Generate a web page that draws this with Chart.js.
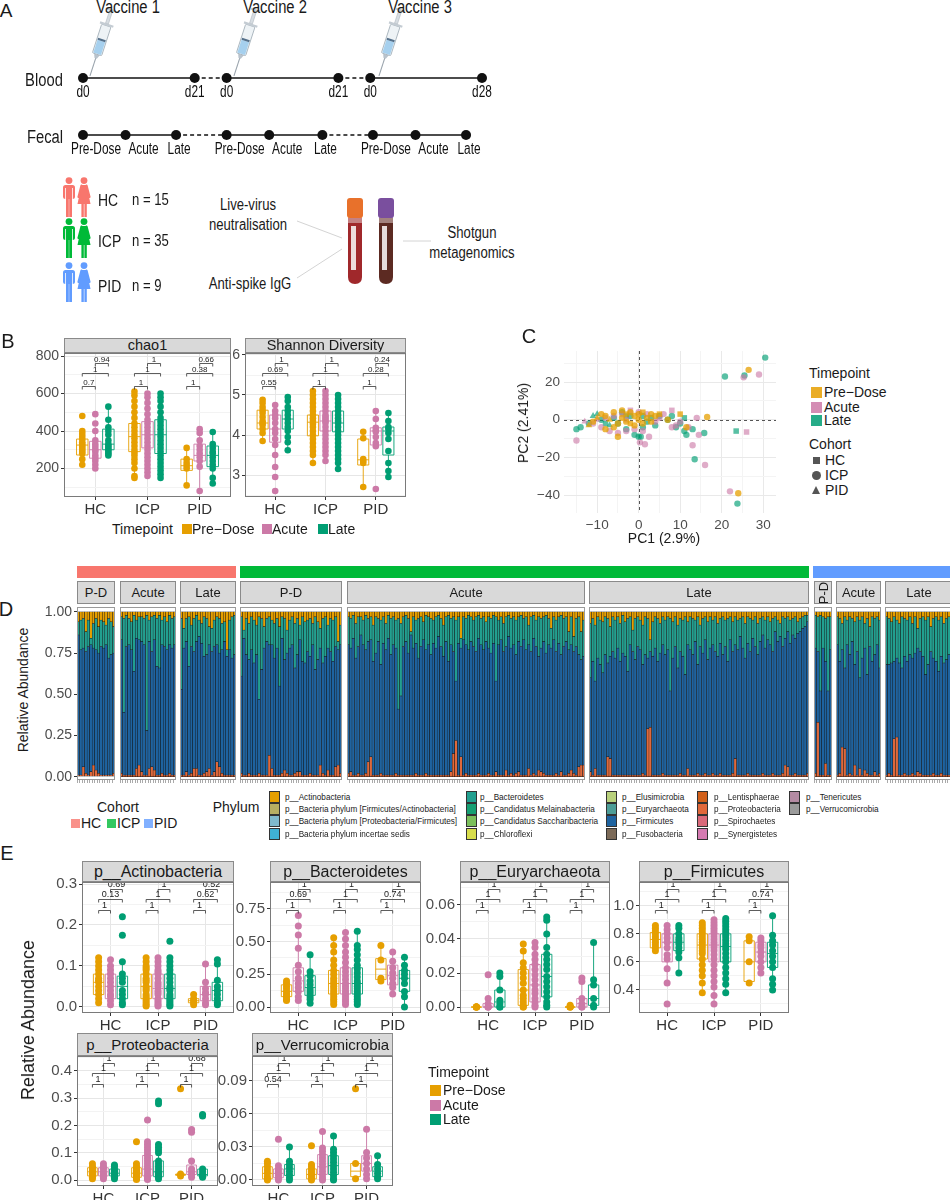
<!DOCTYPE html>
<html>
<head>
<meta charset="utf-8">
<title>Vaccine cohorts and gut microbiome</title>
<script src="https://cdn.jsdelivr.net/npm/chart.js@4.4.1/dist/chart.umd.min.js"></script>
<style>
  html, body { margin: 0; padding: 0; background: #fff; }
  body { position: relative; width: 950px; height: 1200px; overflow: hidden; font-family: 'Liberation Sans', Arial, sans-serif; color: #1a1a1a; }
  .box { position: absolute; z-index: 1; }
  .strip { position: absolute; z-index: 3; background: #d9d9d9; border: 1px solid #8a8a8a; box-sizing: border-box; text-align: center; color: #1a1a1a; overflow: hidden; white-space: nowrap; }
  .t { position: absolute; z-index: 4; line-height: 1; white-space: nowrap; }
  .key { position: absolute; z-index: 4; box-sizing: border-box; }
  #art { position: absolute; left: 0; top: 0; z-index: 0; }
</style>
</head>
<body>
<svg id="art" width="650" height="310"></svg>
<script>
// ---------------- data ----------------
const cohorts = ['HC', 'ICP', 'PID'];
const cohortN = [15, 35, 9];
const timepoints = ['Pre\u2212Dose', 'Acute', 'Late'];
const tpColors = ['#E69F00', '#CC79A7', '#009E73'];
const cohortColors = ['#F8766D', '#00BA38', '#619CFF'];

// panel A timeline, schematic units
const bloodPos = [0, 21, 27, 48, 54, 75];
const bloodLabels = ['d0', 'd21', 'd0', 'd21', 'd0', 'd28'];
const bloodDash = [false, true, false, true, false];
const fecalPos = [0, 8, 17.5, 27, 35, 45, 54.5, 62.5, 72];
const fecalLabels = ['Pre-Dose', 'Acute', 'Late', 'Pre-Dose', 'Acute', 'Late', 'Pre-Dose', 'Acute', 'Late'];
const fecalDash = [false, false, true, false, false, true, false, false];

// panel B, values per [cohort][timepoint]; boxes are [low whisker, q1, median, q3, high whisker]
const chao1Vals = [
  [[480,400,385,370,355,340,330,320,310,300,290,280,250,220],
   [490,440,400,350,330,315,300,290,270,255,240,220,200],
   [530,460,420,400,380,350,330,320,310,300,290,280,270]],
  [[610,590,560,530,500,470,440,420,400,380,360,340,320,300,285,270,250,230,200,160,150],
   [600,580,550,520,490,460,440,420,400,380,360,340,320,300,280,260,240,220,200,180,160],
   [600,580,560,530,500,470,450,430,410,390,370,350,330,310,290,270,250,230,210,190,170,150]],
  [[310,250,230,215,200,110],
   [410,390,350,320,300,280,260,240,210,80],
   [395,330,310,290,280,260,240,220,200,150,120]]
];
const chao1Box = [
  [[220,272,325,357,400],[200,255,300,345,420],[270,300,330,410,530]],
  [[150,290,370,440,610],[160,310,380,450,600],[150,280,380,460,600]],
  [[110,190,215,250,310],[80,240,270,330,410],[120,210,270,320,395]]
];
const chao1P = [['0.7','1','0.94'],['1','1','1'],['1','0.38','0.66']];

const shannonVals = [
  [[4.88,4.8,4.7,4.62,4.55,4.45,4.35,4.3,4.25,4.15,4.05,3.85],
   [4.75,4.6,4.5,4.42,4.3,4.15,4.05,3.9,3.75,3.5,3.2,2.95,2.6],
   [4.95,4.85,4.7,4.6,4.5,4.4,4.3,4.2,4.1,3.95,3.82,3.62]],
  [[5.1,5.0,4.9,4.8,4.7,4.6,4.5,4.42,4.35,4.28,4.2,4.1,4.0,3.9,3.8,3.7,3.6,3.5,3.3],
   [5.1,5.0,4.9,4.8,4.7,4.6,4.5,4.45,4.4,4.35,4.3,4.2,4.1,4.0,3.9,3.8,3.7,3.6,3.5,3.35],
   [5.0,4.9,4.8,4.7,4.6,4.5,4.42,4.35,4.3,4.2,4.1,4.0,3.9,3.8,3.7,3.6,3.5,3.4,3.3,3.15]],
  [[4.08,3.92,3.4,3.35,3.3,2.7],
   [4.6,4.4,4.18,4.12,4.08,3.95,3.8,3.72,2.65],
   [4.55,4.35,4.2,4.15,4.05,3.9,3.6,3.3,3.1,2.95]]
];
const shannonBox = [
  [[3.85,4.15,4.3,4.62,4.88],[3.2,3.82,4.15,4.5,4.75],[3.62,4.15,4.4,4.62,4.95]],
  [[3.3,3.98,4.32,4.5,5.1],[3.35,4.1,4.35,4.6,5.1],[3.15,4.08,4.3,4.6,5.0]],
  [[2.7,3.25,3.38,3.9,4.08],[3.72,3.75,4.1,4.18,4.6],[2.95,3.5,4.1,4.2,4.55]]
];
const shannonP = [['0.55','0.69','1'],['1','1','1'],['1','0.28','0.24']];

// panel C, PCA points [PC1, PC2, cohort index]
const pcaPre = [[-5,-9,1],[16.5,1.5,1],[10,3,0],[26.5,26.5,1],[24,-39,1],[-8,2,1],[-6,4,1],[-4,5,1],[-3,3,0],[-2,4,1],
  [-1,2,1],[0,3,1],[1,4,0],[2,1,1],[3,3,1],[-7,0,2],[-9,3,1],[-10,1,2],[-5,-2,1],[-3,-1,1],[-1,-3,1],[1,-2,1],
  [-6,-4,1],[4,2,1],[-11,-1,1],[5,3,0],[-4,1,1],[0,0,1],[-2,-2,0],[11.5,-4,1],[7,0,1],[-8,-5,1],[-12,-3,2],[3,-1,1]];
const pcaAcute = [[-15,-11,1],[-13,-1,2],[0.3,-12,1],[1.5,-13,1],[2.5,-9,1],[14.5,-8,1],[13,-13.5,1],[16,-24,1],
  [22,-38,1],[25.3,22.5,1],[29,24,1],[26,-6.5,0],[14,1,1],[8,5,0],[6,3,1],[8,-4,1],[-9,-4,1],[-7,-6,1],[-5,-7,1],
  [-3,-6,1],[-1,-5,1],[1,-6,1],[-4,3,1],[-6,2,1],[-2,5,0],[0,4,1],[2,3,1],[-8,1,1],[-11,-2,1],[4,-1,1],[10,-1,1],
  [12,-4,1],[-10,0,2],[5,1,1],[-3,0,0],[9,-3,1]];
const pcaLate = [[-15,-5,1],[-14,-4,1],[-12,-2,1],[-10,3,2],[-9,0,1],[-7,-3,2],[-6,1,1],[-5,-2,1],[-4,4,1],[-3,-5,1],
  [-2,2,1],[-1,-8,1],[0,-9,1],[0.5,-9,1],[1,-4,1],[2,-1,1],[3,1,1],[5,2,1],[7,0,1],[8,2,1],[9,-4,1],[10,-2,1],
  [11,-6,1],[11.5,-8,1],[11,1,0],[13,-5,1],[15.8,-7,1],[13.5,-21,1],[20.8,23,1],[25.5,23.5,1],[30.5,33,1],
  [23.5,-6,0],[23.8,-44.5,1],[-8,-2,0],[-11,2,2],[-3,2,0],[1,2,1],[4,-3,1]];

// panel D, one row per sample: [Proteobacteria top, Firmicutes top, Bacteroidetes top] in %
const dHcPd = [[1,86,94],[1,77,95],[6,78,96],[2,76,88],[1,79,95],[3,80,84],[7,78,93],[4,77,96],[2,75,91],[1,79,95],
  [1,78,94],[1,80,92],[1,72,96],[1,74,94],[2,75,91]];
const dHcAc = [[2,83,97],[1,39,96],[1,79,98],[1,80,96],[1,77,94],[1,64,98],[5,84,95],[7,83,97],[3,82,97],[1,80,96],
  [1,28,98],[5,82,95],[6,76,97],[4,83,98],[1,67,96],[1,66,98],[2,80,95],[1,79,97],[1,77,94],[2,80,98],[1,78,96],[1,80,97]];
const dHcLate = [[1,53,96],[1,78,90],[3,82,96],[1,67,97],[2,79,92],[5,76,96],[5,82,98],[1,85,95],[1,81,93],[2,73,97],
  [3,74,96],[5,80,91],[1,76,90],[3,79,95],[9,80,97],[6,75,96],[2,77,93],[1,82,94],[1,73,77],[1,77,95],[1,72,97],[1,74,98]];
const dIcpPd = [[2,61,97],[1,84,89],[1,74,96],[2,71,93],[1,77,97],[1,69,95],[1,74,92],[2,47,97],[1,65,96],[1,78,91],
  [1,82,96],[13,80,97],[5,80,95],[1,72,93],[1,78,96],[1,55,91],[2,84,97],[4,71,96],[2,75,89],[1,78,95],
  [1,80,97],[2,66,93],[3,74,96],[3,83,92],[1,70,97],[1,69,94],[1,76,95],[2,73,96],[1,80,93],[1,65,97],
  [1,71,94],[7,78,90],[2,69,96],[1,73,97],[4,78,92],[1,76,96],[1,70,95],[6,79,97],[7,77,82],[2,80,92]];
const dIcpAc = [[2,80,97],[3,78,96],[1,84,98],[1,72,93],[2,79,97],[1,86,97],[1,80,95],[2,77,98],[9,82,96],[12,83,97],
  [1,70,92],[1,75,97],[1,82,96],[2,68,95],[1,81,97],[1,77,93],[1,84,98],[1,74,96],[1,80,97],[2,78,95],
  [1,41,96],[1,49,93],[1,79,97],[1,82,98],[1,75,96],[1,86,88],[1,78,97],[2,81,95],[1,72,96],[1,79,97],
  [1,83,94],[2,77,98],[1,80,97],[1,74,96],[1,81,95],[1,78,97],[1,85,98],[1,79,96],[1,73,92],[1,82,97],
  [1,70,98],[3,80,96],[14,76,97],[22,58,95],[1,81,97],[12,78,84],[1,83,97],[2,80,96],[1,77,98],[1,82,97],
  [1,79,95],[1,76,97],[2,84,98],[1,80,96],[1,77,97],[1,82,94],[2,78,97],[1,75,96],[1,81,98],[3,58,97],
  [1,80,95],[1,83,97],[1,76,93],[4,79,97],[1,85,98],[2,78,96],[1,80,97],[2,74,95],[3,82,97],[1,79,98],
  [1,83,96],[1,77,97],[5,80,92],[1,76,97],[2,84,98],[1,79,95],[4,73,97],[3,78,96],[2,82,97],[1,75,98],
  [1,80,96],[1,78,90],[1,83,97],[2,76,95],[1,81,97],[3,74,98],[1,79,96],[1,82,97],[2,77,88],[4,80,97],
  [2,76,85],[1,79,96],[6,74,97],[7,71,88],[7,73,95]];
const dIcpLate = [[3,60,93],[1,70,96],[5,58,92],[1,72,97],[1,68,95],[1,63,94],[1,74,97],[12,69,96],[11,73,91],[1,76,97],
  [1,72,95],[1,78,97],[1,70,93],[1,75,98],[1,73,94],[1,64,96],[1,80,97],[1,76,89],[1,71,96],[1,79,97],
  [1,77,95],[2,68,92],[1,74,97],[29,72,96],[30,76,83],[1,73,94],[1,78,97],[1,70,96],[1,75,93],[2,80,97],
  [1,74,95],[1,77,97],[1,52,96],[1,72,94],[1,79,97],[1,66,92],[2,76,96],[1,73,95],[1,62,97],[5,80,94],
  [1,77,97],[1,74,96],[1,82,95],[2,68,97],[1,79,92],[1,75,96],[2,83,97],[1,71,94],[1,78,97],[2,80,95],
  [1,76,97],[1,73,93],[2,81,96],[1,74,97],[1,79,95],[1,70,96],[1,83,97],[2,76,94],[11,80,97],[1,77,95],
  [1,85,96],[1,78,97],[1,72,93],[2,81,97],[1,76,96],[1,84,95],[1,79,97],[1,74,93],[1,82,96],[2,86,97],
  [1,78,95],[1,83,97],[1,80,94],[2,76,96],[1,88,97],[1,82,95],[1,85,93],[2,79,97],[7,84,96],[6,88,97],
  [1,81,95],[1,86,96],[2,84,97],[1,87,94],[1,88,96],[1,90,97],[1,91,98],[2,94,98]];
const dPidPd = [[2,78,98],[33,76,97],[1,52,98],[1,78,97],[8,70,96],[1,52,97],[1,77,97]];
const dPidAc = [[1,80,97],[2,70,96],[18,77,93],[17,66,97],[1,80,95],[2,74,97],[1,82,96],[7,68,94],[1,76,97],
  [5,60,95],[1,72,97],[4,78,93],[2,62,96],[1,79,91],[1,70,97],[3,74,96],[1,80,97],[2,66,95]];
const dPidLate = [[1,68,97],[2,68,96],[1,69,94],[23,70,97],[24,72,95],[1,69,93],[1,66,97],[2,73,96],[1,70,95],
  [1,74,97],[2,72,93],[1,75,97],[3,78,90],[2,76,96],[1,73,97],[1,62,95],[1,68,97],[1,76,91],[2,72,96],
  [1,70,97],[1,64,95],[2,73,97],[1,69,93],[1,71,96],[1,74,97],[2,70,95]];

const phyla = ['Actinobacteria', 'Bacteria phylum [Firmicutes/Actinobacteria]', 'Bacteria phylum [Proteobacteria/Firmicutes]',
  'Bacteria phylum incertae sedis', 'Bacteroidetes', 'Candidatus Melainabacteria', 'Candidatus Saccharibacteria', 'Chloroflexi',
  'Elusimicrobia', 'Euryarchaeota', 'Firmicutes', 'Fusobacteria', 'Lentisphaerae', 'Proteobacteria', 'Spirochaetes',
  'Synergistetes', 'Tenericutes', 'Verrucomicrobia'];
const phylumColors = ['#E69F00', '#B8AE62', '#80B9CC', '#3FB1D6', '#22A090', '#169F73', '#7CC05C', '#D8DD4C',
  '#B9D17C', '#4D9D97', '#1E63A0', '#7C6A58', '#D2601A', '#E0683A', '#D9697A', '#D57AB1', '#B48BA3', '#9B9B9B'];

// panel E
const actVals = [
  [[0.12,0.11,0.1,0.09,0.08,0.07,0.065,0.06,0.05,0.04,0.03,0.02,0.01],
   [0.115,0.1,0.09,0.08,0.07,0.06,0.05,0.04,0.03,0.025,0.015,0.005],
   [0.22,0.175,0.11,0.08,0.07,0.06,0.04,0.03,0.02,0.01,0.005]],
  [[0.12,0.11,0.1,0.095,0.09,0.08,0.07,0.065,0.06,0.05,0.045,0.04,0.03,0.025,0.02,0.015,0.01,0.005,0.002],
   [0.12,0.11,0.1,0.09,0.085,0.08,0.07,0.06,0.055,0.05,0.04,0.035,0.03,0.02,0.015,0.01,0.005,0.002],
   [0.16,0.12,0.11,0.1,0.09,0.08,0.07,0.06,0.05,0.045,0.04,0.03,0.025,0.02,0.015,0.01,0.005,0.002]],
  [[0.03,0.02,0.015,0.01,0.005],
   [0.105,0.06,0.045,0.035,0.03,0.02,0.01,0.005],
   [0.115,0.105,0.065,0.05,0.04,0.03,0.02,0.01,0.005]]
];
const actBox = [
  [[0.01,0.03,0.06,0.08,0.12],[0.005,0.02,0.05,0.08,0.115],[0.005,0.02,0.05,0.075,0.11]],
  [[0.002,0.02,0.05,0.08,0.12],[0.002,0.02,0.045,0.08,0.12],[0.002,0.02,0.045,0.08,0.12]],
  [[0.005,0.01,0.015,0.02,0.03],[0.005,0.015,0.03,0.05,0.105],[0.005,0.015,0.04,0.06,0.115]]
];
const actP = [['1','0.13','0.69'],['1','1','1'],['1','0.62','0.52']];

const bacVals = [
  [[0.2,0.18,0.16,0.14,0.12,0.1,0.09,0.08,0.06,0.05],
   [0.7,0.62,0.55,0.45,0.32,0.27,0.22,0.18,0.15,0.12,0.08,0.05],
   [0.4,0.27,0.24,0.2,0.17,0.14,0.12,0.1,0.08,0.06,0.03]],
  [[0.53,0.47,0.42,0.36,0.32,0.28,0.25,0.22,0.2,0.18,0.16,0.14,0.12,0.1,0.08,0.06,0.04,0.02],
   [0.57,0.52,0.47,0.42,0.38,0.34,0.3,0.27,0.24,0.21,0.18,0.16,0.14,0.12,0.1,0.08,0.06,0.04,0.02],
   [0.58,0.47,0.44,0.4,0.36,0.32,0.29,0.26,0.23,0.2,0.18,0.16,0.14,0.12,0.1,0.08,0.06,0.04,0.02]],
  [[0.47,0.36,0.22,0.2],
   [0.42,0.35,0.3,0.26,0.22,0.18,0.15,0.1],
   [0.38,0.32,0.28,0.25,0.22,0.18,0.12,0.08,0.0]]
];
const bacBox = [
  [[0.05,0.08,0.12,0.17,0.2],[0.05,0.12,0.2,0.3,0.55],[0.03,0.09,0.15,0.24,0.4]],
  [[0.02,0.1,0.18,0.28,0.53],[0.02,0.1,0.18,0.3,0.57],[0.02,0.1,0.18,0.3,0.58]],
  [[0.2,0.21,0.29,0.37,0.47],[0.1,0.17,0.24,0.32,0.42],[0.0,0.12,0.22,0.28,0.38]]
];
const bacP = [['1','0.69','1'],['1','1','1'],['1','0.74','1']];

const euryVals = [
  [[0,0,0,0,0],[0.019,0.005,0.002,0,0,0],[0.02,0.018,0.01,0.004,0.002,0,0]],
  [[0.037,0.033,0.026,0.023,0.02,0.017,0.014,0.01,0.007,0.005,0.003,0.001,0,0],
   [0.038,0.035,0.031,0.028,0.025,0.022,0.019,0.016,0.013,0.01,0.008,0.005,0.003,0.001,0],
   [0.053,0.051,0.043,0.035,0.031,0.028,0.025,0.022,0.018,0.015,0.012,0.009,0.006,0.003,0.001,0]],
  [[0.001,0,0,0],[0.017,0.015,0.005,0.002,0,0],[0.038,0.016,0.013,0.005,0.001,0]]
];
const euryBox = [
  [[0,0,0,0,0],[0,0,0,0.002,0.005],[0,0,0.003,0.01,0.02]],
  [[0,0.001,0.01,0.022,0.037],[0,0.003,0.013,0.025,0.038],[0,0.006,0.018,0.031,0.053]],
  [[0,0,0,0,0.001],[0,0,0.002,0.005,0.017],[0,0.001,0.005,0.013,0.038]]
];
const euryP = [['1','1','1'],['1','1','1'],['1','1','1']];

const firmVals = [
  [[0.86,0.84,0.82,0.8,0.78,0.76,0.74,0.72,0.7,0.68],
   [0.86,0.83,0.8,0.77,0.74,0.7,0.65,0.62,0.55,0.45,0.3],
   [0.86,0.84,0.8,0.77,0.75,0.73,0.7,0.67,0.63,0.52]],
  [[0.88,0.86,0.84,0.82,0.8,0.78,0.76,0.74,0.72,0.7,0.68,0.66,0.62,0.58,0.54,0.5,0.45,0.38],
   [0.9,0.88,0.86,0.84,0.82,0.8,0.78,0.76,0.74,0.72,0.7,0.68,0.65,0.62,0.58,0.54,0.5,0.46,0.42,0.36,0.3],
   [0.91,0.89,0.87,0.85,0.83,0.81,0.79,0.77,0.75,0.73,0.71,0.69,0.66,0.63,0.6,0.56,0.52,0.48,0.44,0.38]],
  [[0.78,0.75,0.6,0.45],
   [0.77,0.75,0.72,0.7,0.67,0.64,0.6,0.56,0.52],
   [0.93,0.79,0.75,0.72,0.68,0.64,0.6,0.56,0.48,0.44,0.4]]
];
const firmBox = [
  [[0.67,0.7,0.76,0.81,0.86],[0.45,0.6,0.74,0.8,0.86],[0.52,0.68,0.74,0.8,0.86]],
  [[0.38,0.62,0.72,0.8,0.88],[0.3,0.6,0.72,0.8,0.9],[0.38,0.6,0.71,0.8,0.91]],
  [[0.44,0.46,0.6,0.75,0.78],[0.52,0.6,0.67,0.74,0.77],[0.4,0.56,0.66,0.74,0.93]]
];
const firmP = [['1','1','1'],['1','1','1'],['1','0.74','1']];

const protVals = [
  [[0.06,0.05,0.045,0.04,0.035,0.03,0.025,0.02,0.015,0.01,0.005],
   [0.06,0.05,0.045,0.04,0.03,0.025,0.02,0.015,0.01,0.005],
   [0.055,0.05,0.04,0.035,0.03,0.025,0.02,0.015,0.01,0.005]],
  [[0.14,0.06,0.05,0.045,0.04,0.035,0.03,0.025,0.02,0.015,0.01,0.008,0.005,0.002],
   [0.22,0.14,0.13,0.12,0.11,0.1,0.09,0.08,0.07,0.06,0.05,0.04,0.03,0.02,0.01,0.005,0.002],
   [0.29,0.28,0.13,0.12,0.11,0.1,0.07,0.06,0.05,0.04,0.03,0.025,0.02,0.015,0.01,0.005]],
  [[0.335,0.022,0.015],
   [0.185,0.175,0.07,0.04,0.03,0.02,0.01],
   [0.24,0.235,0.04,0.03,0.02,0.015,0.01]]
];
const protBox = [
  [[0.005,0.015,0.03,0.045,0.06],[0.005,0.015,0.03,0.045,0.06],[0.005,0.015,0.025,0.04,0.055]],
  [[0.002,0.01,0.025,0.045,0.06],[0.002,0.015,0.04,0.09,0.14],[0.005,0.012,0.03,0.07,0.13]],
  [[0.015,0.017,0.02,0.022,0.022],[0.01,0.02,0.03,0.055,0.07],[0.01,0.015,0.02,0.04,0.04]]
];
const protP = [['1','1','1'],['1','1','1'],['1','1','0.68']];

const verrVals = [
  [[0.017,0.015,0.012,0.009,0.006,0.003,0.001,0],
   [0.037,0.013,0.01,0.008,0.006,0.004,0.002,0],
   [0.03,0.017,0.014,0.011,0.008,0.005,0.002,0]],
  [[0.031,0.014,0.012,0.01,0.008,0.006,0.004,0.002,0.001,0],
   [0.044,0.029,0.026,0.023,0.02,0.017,0.014,0.011,0.008,0.005,0.002,0],
   [0.04,0.028,0.025,0.022,0.019,0.016,0.013,0.01,0.007,0.004,0.001,0]],
  [[0.083,0.015,0.001],
   [0.046,0.025,0.02,0.015,0.01,0.005,0.001],
   [0.022,0.014,0.01,0.006,0.003,0.001]]
];
const verrBox = [
  [[0,0.001,0.006,0.012,0.017],[0,0.002,0.006,0.01,0.013],[0,0.004,0.01,0.014,0.03]],
  [[0,0.001,0.005,0.01,0.014],[0,0.005,0.012,0.023,0.044],[0,0.005,0.013,0.022,0.04]],
  [[0.001,0.003,0.008,0.015,0.015],[0.001,0.008,0.015,0.022,0.046],[0.001,0.003,0.008,0.012,0.022]]
];
const verrP = [['0.54','1','1'],['1','1','1'],['1','1','1']];

// ---------------- setup ----------------
Chart.defaults.font.family = "'Liberation Sans', Arial, sans-serif";
Chart.defaults.color = '#4d4d4d';
Chart.defaults.animation = false;
Chart.defaults.responsive = true;
Chart.defaults.maintainAspectRatio = false;
Chart.defaults.events = [];
Chart.defaults.plugins.legend.display = false;
Chart.defaults.plugins.tooltip.enabled = false;

const dodge = [-0.25, 0, 0.25];
const sigPairs = [[0, 1], [0, 2], [1, 2]];

// panel border, like ggplot theme_bw
Chart.register({
  id: 'frame',
  afterDraw(chart, args, o) {
    if (!o.color) return;
    const a = chart.chartArea, c = chart.ctx;
    c.save();
    c.strokeStyle = o.color; c.lineWidth = 1;
    c.strokeRect(a.left + 0.5, a.top + 0.5, a.right - a.left - 1, a.bottom - a.top - 1);
    c.restore();
  }
});

// box and whiskers under the dots
Chart.register({
  id: 'boxes',
  beforeDatasetsDraw(chart, args, o) {
    if (!o.stats) return;
    const { ctx, chartArea: a, scales: { x, y } } = chart;
    const hw = x.getPixelForValue(1.11) - x.getPixelForValue(1);
    ctx.save();
    ctx.beginPath(); ctx.rect(a.left, a.top, a.right - a.left, a.bottom - a.top); ctx.clip();
    ctx.lineWidth = 0.9;
    o.stats.forEach((coh, ci) => coh.forEach((s, t) => {
      const [lo, q1, md, q3, hi] = s.map(v => y.getPixelForValue(v));
      const xc = x.getPixelForValue(ci + 1 + dodge[t]);
      ctx.strokeStyle = tpColors[t];
      ctx.beginPath();
      ctx.moveTo(xc, hi); ctx.lineTo(xc, q3);
      ctx.moveTo(xc, q1); ctx.lineTo(xc, lo);
      ctx.rect(xc - hw, q3, 2 * hw, q1 - q3);
      ctx.moveTo(xc - hw, md); ctx.lineTo(xc + hw, md);
      ctx.stroke();
    }));
    ctx.restore();
  }
});

// significance brackets with p labels
Chart.register({
  id: 'sig',
  afterDatasetsDraw(chart, args, o) {
    if (!o.labels) return;
    const { ctx, chartArea: a, scales: { x } } = chart;
    const H = a.bottom - a.top;
    ctx.save();
    ctx.strokeStyle = '#333'; ctx.fillStyle = '#222'; ctx.lineWidth = 0.8;
    ctx.font = (o.size || 8.5) + "px 'Liberation Sans', Arial, sans-serif";
    ctx.textAlign = 'center'; ctx.textBaseline = 'bottom';
    o.labels.forEach((trio, ci) => trio.forEach((lab, k) => {
      const [g1, g2] = sigPairs[k];
      const x1 = x.getPixelForValue(ci + 1 + dodge[g1]), x2 = x.getPixelForValue(ci + 1 + dodge[g2]);
      const yy = Math.round(a.top + o.levels[k] * H) + 0.5;
      ctx.beginPath();
      ctx.moveTo(x1, yy + 3); ctx.lineTo(x1, yy); ctx.lineTo(x2, yy); ctx.lineTo(x2, yy + 3);
      ctx.stroke();
      ctx.fillText(lab, (x1 + x2) / 2, yy);
    }));
    ctx.restore();
  }
});

// dashed zero lines of the PCA
Chart.register({
  id: 'zero',
  beforeDatasetsDraw(chart, args, o) {
    if (!o.on) return;
    const { ctx, chartArea: a, scales: { x, y } } = chart;
    const x0 = Math.round(x.getPixelForValue(0)) + 0.5, y0 = Math.round(y.getPixelForValue(0)) + 0.5;
    ctx.save();
    ctx.strokeStyle = '#555'; ctx.lineWidth = 1; ctx.setLineDash([3, 3]);
    ctx.beginPath();
    ctx.moveTo(x0, a.top); ctx.lineTo(x0, a.bottom);
    ctx.moveTo(a.left, y0); ctx.lineTo(a.right, y0);
    ctx.stroke();
    ctx.restore();
  }
});

// labels under the timeline dots; shift is a per-label horizontal nudge
Chart.register({
  id: 'tlLabels',
  afterDatasetsDraw(chart, args, o) {
    if (!o.sets) return;
    const { ctx } = chart;
    ctx.save();
    ctx.fillStyle = '#111'; ctx.textAlign = 'center'; ctx.textBaseline = 'middle';
    ctx.font = "16px 'Liberation Sans', Arial, sans-serif";
    o.sets.forEach((labels, di) => {
      chart.getDatasetMeta(di).data.forEach((pt, i) => {
        ctx.save();
        ctx.translate(pt.x + o.shift[di][i % o.shift[di].length], pt.y + o.dy);
        ctx.scale(0.74, 1);
        ctx.fillText(labels[i], 0, 0);
        ctx.restore();
      });
    });
    ctx.restore();
  }
});

function place(left, top, w, h) {
  const d = document.createElement('div');
  d.className = 'box';
  d.style.cssText = `left:${left}px;top:${top}px;width:${w}px;height:${h}px`;
  const c = document.createElement('canvas');
  d.appendChild(c);
  document.body.appendChild(d);
  return c;
}

function txt(s, x, y, size, o = {}) {
  const d = document.createElement('div');
  d.className = 't';
  d.textContent = s;
  let tf = `translate(${o.left ? '0' : '-50%'},-50%)`;
  if (o.sx) tf += ` scaleX(${o.sx})`;
  if (o.rot) tf += ` rotate(${o.rot}deg)`;
  d.style.left = x + 'px';
  d.style.top = y + 'px';
  d.style.fontSize = size + 'px';
  d.style.transform = tf;
  d.style.transformOrigin = o.left ? 'left center' : 'center center';
  if (o.color) d.style.color = o.color;
  document.body.appendChild(d);
  return d;
}

function key(x, y, w, h, css) {
  const d = document.createElement('div');
  d.className = 'key';
  d.style.cssText = `left:${x}px;top:${y - h / 2}px;width:${w}px;height:${h}px;${css}`;
  document.body.appendChild(d);
}

function strip(l, t, r, b, s, size, vertical) {
  const d = document.createElement('div');
  d.className = 'strip';
  d.style.cssText = `left:${l}px;top:${t}px;width:${r - l}px;height:${b - t}px;font-size:${size}px;line-height:${b - t - 2}px`;
  if (vertical) {
    const sp = document.createElement('div');
    sp.textContent = s;
    sp.style.cssText = `position:absolute;left:50%;top:50%;line-height:1;transform:translate(-50%,-50%) rotate(-90deg)`;
    d.appendChild(sp);
  } else {
    d.textContent = s;
  }
  document.body.appendChild(d);
}

function halfTicks(min, max, step) {
  const h = step / 2, out = [];
  for (let k = Math.ceil(min / h - 1e-9); k * h <= max + 1e-12; k++) out.push({ value: +(k * h).toFixed(10) });
  return out;
}
const isMajor = (v, step) => Math.abs(v / step - Math.round(v / step)) < 1e-6;

// ---------------- panel A ----------------
function syringe(cx, cy) {
  return `<g transform="translate(${cx},${cy}) rotate(18) scale(1.08)">
    <line x1="0" y1="15" x2="0" y2="33" stroke="#98a2ab" stroke-width="1"/>
    <path d="M-2.8 12 L2.8 12 L1.1 16 L-1.1 16 Z" fill="#b9c3cc"/>
    <rect x="-4.5" y="-16" width="9" height="28" rx="1" fill="#eef3f6" stroke="#a9b4bd" stroke-width="0.8"/>
    <rect x="-3.7" y="-1" width="7.4" height="12.5" fill="#a6d0ee"/>
    <rect x="-3.7" y="-3" width="7.4" height="2" fill="#55708a"/>
    <rect x="-6.5" y="-18" width="13" height="2" fill="#c4ccd3"/>
    <rect x="-1.4" y="-30" width="2.8" height="12" fill="#d7dde2" stroke="#b0b8c0" stroke-width="0.5"/>
    <rect x="-4.2" y="-32" width="8.4" height="2" fill="#c4ccd3"/>
  </g>`;
}
function person(x, y, col, female) {
  let s = `<circle cx="${x + 6}" cy="${y + 3.6}" r="3.4" fill="${col}"/>`;
  if (!female) {
    s += `<rect x="${x}" y="${y + 8}" width="12" height="14" rx="2.5" fill="${col}"/>
      <rect x="${x + 2.2}" y="${y + 11}" width="0.8" height="11" fill="#fff"/>
      <rect x="${x + 9}" y="${y + 11}" width="0.8" height="11" fill="#fff"/>
      <rect x="${x + 3}" y="${y + 21}" width="2.8" height="19" fill="${col}"/>
      <rect x="${x + 6.2}" y="${y + 21}" width="2.8" height="19" fill="${col}"/>`;
  } else {
    s += `<path d="M${x + 3.5} ${y + 8} L${x + 8.5} ${y + 8} L${x + 12.5} ${y + 27} L${x - 0.5} ${y + 27} Z" fill="${col}"/>
      <path d="M${x + 3.5} ${y + 8.5} L${x + 0.5} ${y + 20}" stroke="${col}" stroke-width="2.2" stroke-linecap="round"/>
      <path d="M${x + 8.5} ${y + 8.5} L${x + 11.5} ${y + 20}" stroke="${col}" stroke-width="2.2" stroke-linecap="round"/>
      <rect x="${x + 3.4}" y="${y + 26}" width="2.4" height="14" fill="${col}"/>
      <rect x="${x + 6.4}" y="${y + 26}" width="2.4" height="14" fill="${col}"/>`;
  }
  return s;
}
function tube(x, capCol, bodyCol) {
  return `<rect x="${x}" y="198" width="16" height="20" rx="3" fill="${capCol}"/>
    <rect x="${x + 1}" y="214" width="14" height="4" fill="${capCol}" opacity="0.7"/>
    <path d="M${x + 1} 218 L${x + 15} 218 L${x + 15} 277 Q${x + 15} 284 ${x + 8} 284 Q${x + 1} 284 ${x + 1} 277 Z" fill="${bodyCol}"/>
    <rect x="${x + 4}" y="226" width="5" height="44" fill="#f3ecec" opacity="0.92"/>
    <rect x="${x + 1}" y="218" width="14" height="5" fill="#e9d9d9" opacity="0.5"/>`;
}
let art = '';
[101, 245, 390].forEach(cx => { art += syringe(cx, 42); });
[177, 218, 262].forEach((y, i) => { art += person(63, y, cohortColors[i], false) + person(78, y, cohortColors[i], true); });
art += tube(347, '#E8712B', '#A0282B') + tube(378, '#7A4F9E', '#5C2A22');
art += `<line x1="297" y1="221" x2="342" y2="238" stroke="#d4d4d4" stroke-width="1"/>
  <line x1="297" y1="278" x2="342" y2="249" stroke="#d4d4d4" stroke-width="1"/>
  <line x1="403" y1="241" x2="431" y2="241" stroke="#d4d4d4" stroke-width="1"/>`;
document.getElementById('art').innerHTML = art;

txt('A', 6, 10, 19);
['Vaccine 1', 'Vaccine 2', 'Vaccine 3'].forEach((s, i) => txt(s, [128, 275, 420][i], 7, 18, { sx: 0.82 }));
txt('Blood', 44, 80, 18, { sx: 0.82 });
txt('Fecal', 45, 137, 18, { sx: 0.82 });
[200, 241, 286].forEach((y, i) => {
  txt(cohorts[i], 98, y, 17, { left: true, sx: 0.82 });
  txt('n = ' + cohortN[i], 132, y, 16, { left: true, sx: 0.82 });
});
txt('Live-virus', 248, 205, 16, { sx: 0.82 });
txt('neutralisation', 248, 225, 16, { sx: 0.82 });
txt('Anti-spike IgG', 250, 284, 16, { sx: 0.82 });
txt('Shotgun', 472, 233, 16, { sx: 0.82 });
txt('metagenomics', 472, 253, 16, { sx: 0.82 });

new Chart(place(60, 58, 445, 110), {
  type: 'line',
  data: {
    datasets: [
      { data: bloodPos.map(x => ({ x, y: 1 })), segment: { borderDash: s => bloodDash[s.p0DataIndex] ? [4, 3] : undefined } },
      { data: fecalPos.map(x => ({ x, y: 0 })), segment: { borderDash: s => fecalDash[s.p0DataIndex] ? [4, 3] : undefined } }
    ].map(d => Object.assign(d, { borderColor: '#111', borderWidth: 1.6, pointRadius: 5, pointBackgroundColor: '#111', pointBorderWidth: 0, clip: false, tension: 0 }))
  },
  options: {
    layout: { padding: { left: 23, right: 23, top: 20, bottom: 33 } },
    scales: { x: { type: 'linear', min: 0, max: 75, display: false }, y: { min: 0, max: 1, display: false } },
    plugins: { tlLabels: { sets: [bloodLabels, fecalLabels], shift: [[0], [13, 18, 3]], dy: 15 } }
  }
});

// ---------------- dot + box panels (B and E) ----------------
function dotPanel(p) {
  const m = 8, axW = 40, axH = 22;
  const c = place(p.l - axW, p.t - m, p.r - p.l + axW + m, p.b - p.t + axH + m);
  new Chart(c, {
    type: 'scatter',
    data: {
      datasets: tpColors.map((col, t) => ({
        data: p.vals.flatMap((coh, ci) => coh[t].map(v => ({ x: ci + 1 + dodge[t], y: v }))),
        backgroundColor: col, borderWidth: 0, pointRadius: p.radius || 3.4
      }))
    },
    options: {
      layout: { padding: { top: m, right: m } },
      scales: {
        x: {
          type: 'linear', min: 0.4, max: 3.6,
          afterBuildTicks: s => { s.ticks = cohorts.map((_, i) => ({ value: i + 1 })); },
          afterFit: s => { s.height = axH; s.paddingLeft = 0; s.paddingRight = 0; },
          ticks: { callback: v => cohorts[v - 1], font: { size: 15 }, color: '#333', padding: 1, autoSkip: false, maxRotation: 0 },
          grid: { color: '#e6e6e6', tickColor: '#333', tickLength: 3 },
          border: { display: false }
        },
        y: {
          min: p.min, max: p.max,
          afterBuildTicks: s => { s.ticks = halfTicks(p.min, p.max, p.step); },
          afterFit: s => { s.width = axW; s.paddingTop = 0; s.paddingBottom = 0; },
          ticks: { callback: v => isMajor(v, p.step) ? p.fmt(v) : '', font: { size: p.ySize || 14 }, color: '#4d4d4d', padding: 2, autoSkip: false },
          grid: {
            color: g => isMajor(g.tick.value, p.step) ? '#e6e6e6' : '#f3f3f3',
            tickColor: g => isMajor(g.tick.value, p.step) ? '#333' : 'rgba(0,0,0,0)',
            tickLength: 3
          },
          border: { display: false }
        }
      },
      plugins: {
        frame: { color: '#7a7a7a' },
        boxes: { stats: p.boxes },
        sig: { labels: p.sig, levels: p.levels || [0.215, 0.13, 0.05], size: p.sigSize || 9 }
      }
    }
  });
  strip(p.l, p.st, p.r, p.t, p.title, p.titleSize);
}

// panel B
txt('B', 8, 341, 20);
dotPanel({ l: 64, r: 231, t: 353, b: 497, st: 338, title: 'chao1', titleSize: 14.5,
  vals: chao1Vals, boxes: chao1Box, sig: chao1P, min: 48, max: 816, step: 200, fmt: v => String(v),
  levels: [0.23, 0.14, 0.07], sigSize: 8, radius: 3.3 });
dotPanel({ l: 245, r: 406, t: 353, b: 497, st: 338, title: 'Shannon Diversity', titleSize: 14.5,
  vals: shannonVals, boxes: shannonBox, sig: shannonP, min: 2.45, max: 6.05, step: 1, fmt: v => String(v),
  levels: [0.23, 0.14, 0.07], sigSize: 8, radius: 3.3 });
txt('Timepoint', 112, 529, 14, { left: true });
[[182, 192], [262, 272], [318, 328]].forEach(([kx, tx], t) => {
  key(kx, 529, 10, 10, `background:${tpColors[t]};border:1px solid ${tpColors[t]}`);
  txt(timepoints[t], tx, 529, 14, { left: true });
});

// ---------------- panel C ----------------
txt('C', 529, 336, 20);
{
  const L = 564, R = 776, T = 351, B = 513, axW = 34, axH = 24, m = 8;
  const xmin = -18, xmax = 33.1, ymin = -49.5, ymax = 36.5;
  const shapes = ['rect', 'circle', 'triangle'];
  const fills = ['rgba(230,159,0,0.75)', 'rgba(204,121,167,0.62)', 'rgba(0,158,115,0.65)'];
  const minus = v => v < 0 ? '\u2212' + (-v) : String(v);
  new Chart(place(L - axW, T - m, R - L + axW + m, B - T + axH + m), {
    type: 'scatter',
    data: {
      datasets: [pcaPre, pcaAcute, pcaLate].map((arr, t) => ({
        data: arr.map(p => ({ x: p[0], y: p[1] })),
        pointStyle: arr.map(p => shapes[p[2]]),
        pointRadius: arr.map(p => p[2] === 1 ? 3.2 : 3.9),
        backgroundColor: fills[t], borderWidth: 0
      }))
    },
    options: {
      layout: { padding: { top: m, right: m } },
      scales: {
        x: {
          type: 'linear', min: xmin, max: xmax,
          afterBuildTicks: s => { s.ticks = halfTicks(-15, 30, 10); },
          afterFit: s => { s.height = axH; s.paddingLeft = 0; s.paddingRight = 0; },
          ticks: { callback: v => isMajor(v, 10) ? minus(v) : '', font: { size: 13.5 }, color: '#4d4d4d', padding: 4, autoSkip: false, maxRotation: 0 },
          grid: { color: g => isMajor(g.tick.value, 10) ? '#e9e9e9' : '#f4f4f4', drawTicks: false },
          border: { display: false }
        },
        y: {
          min: ymin, max: ymax,
          afterBuildTicks: s => { s.ticks = halfTicks(-40, 30, 20); },
          afterFit: s => { s.width = axW; s.paddingTop = 0; s.paddingBottom = 0; },
          ticks: { callback: v => isMajor(v, 20) ? minus(v) : '', font: { size: 13.5 }, color: '#4d4d4d', padding: 4, autoSkip: false },
          grid: { color: g => isMajor(g.tick.value, 20) ? '#e9e9e9' : '#f4f4f4', drawTicks: false },
          border: { display: false }
        }
      },
      plugins: { zero: { on: true } }
    }
  });
}
txt('PC1 (2.9%)', 664, 538, 14);
txt('PC2 (2.41%)', 523, 423, 14, { rot: -90 });
txt('Timepoint', 809, 373, 14, { left: true });
[392, 407, 420].forEach((y, t) => {
  key(811, y, 11, 11, `background:${tpColors[t]};opacity:0.85`);
  txt(timepoints[t], 824, y, 14, { left: true });
});
txt('Cohort', 809, 444, 14, { left: true });
key(813, 460, 7, 7, 'background:#555');
key(812, 475, 9, 9, 'background:#555;border-radius:50%');
key(812, 490, 0, 8, 'border-left:4.5px solid transparent;border-right:4.5px solid transparent;border-bottom:8px solid #555');
cohorts.forEach((s, i) => txt(s, 825, [460, 475, 490][i], 14, { left: true }));

// ---------------- panel D ----------------
txt('D', 6, 609, 20);
txt('Relative Abundance', 23, 690, 14, { rot: -90 });
[[77, 236], [240, 809], [813, 960]].forEach(([l, r], i) => {
  const d = document.createElement('div');
  d.style.cssText = `position:absolute;left:${l}px;top:566px;width:${r - l}px;height:12px;background:${cohortColors[i]};z-index:2`;
  document.body.appendChild(d);
});
const dFacets = [
  { l: 77, r: 115, rows: dHcPd, name: 'P-D' },
  { l: 120, r: 176, rows: dHcAc, name: 'Acute' },
  { l: 180, r: 236, rows: dHcLate, name: 'Late' },
  { l: 240, r: 342, rows: dIcpPd, name: 'P-D' },
  { l: 347, r: 585, rows: dIcpAc, name: 'Acute' },
  { l: 589, r: 809, rows: dIcpLate, name: 'Late' },
  { l: 814, r: 832, rows: dPidPd, name: 'P-D', vertical: true },
  { l: 836, r: 881, rows: dPidAc, name: 'Acute' },
  { l: 885, r: 953, rows: dPidLate, name: 'Late' }
];
const barParts = [
  ['Proteobacteria', r => [0, r[0]]],
  ['Firmicutes', r => [r[0], r[1]]],
  ['Bacteroidetes', r => [r[1], r[2]]],
  ['Actinobacteria', r => [r[2], 100]]
];
dFacets.forEach((f, i) => {
  const m = 6, axW = i === 0 ? 42 : 0, axH = 8, T = 607, B = 780;
  new Chart(place(f.l - axW, T - m, f.r - f.l + axW, B - T + axH + m), {
    type: 'bar',
    data: {
      labels: f.rows.map((_, k) => String(k + 1)),
      datasets: barParts.map(([name, span]) => ({
        label: name,
        data: f.rows.map(span),
        backgroundColor: phylumColors[phyla.indexOf(name)],
        borderColor: '#151515', borderWidth: 0.5, borderSkipped: false,
        grouped: false, barPercentage: 1, categoryPercentage: 1
      }))
    },
    options: {
      layout: { padding: { top: m } },
      scales: {
        x: {
          ticks: { display: false },
          grid: { drawOnChartArea: false, tickLength: 3, color: '#aaa' },
          border: { display: false },
          afterFit: s => { s.height = axH; s.paddingLeft = 0; s.paddingRight = 0; }
        },
        y: {
          display: i === 0, min: -2, max: 103,
          afterBuildTicks: s => { s.ticks = [0, 25, 50, 75, 100].map(value => ({ value })); },
          afterFit: s => { s.width = axW; s.paddingTop = 0; s.paddingBottom = 0; },
          ticks: { callback: v => (v / 100).toFixed(2), font: { size: 14 }, color: '#4d4d4d', padding: 2, autoSkip: false },
          grid: { drawOnChartArea: false, tickLength: 3, color: '#333' },
          border: { display: false }
        }
      },
      plugins: { frame: { color: '#9a9a9a' } }
    }
  });
  strip(f.l, 581, Math.min(f.r, 960), 604, f.name, 13, f.vertical);
});

// panel D legends
txt('Cohort', 118, 807, 14);
[[71, 81], [107, 117], [144, 154]].forEach(([kx, tx], i) => {
  key(kx, 823, 9, 9, `background:${cohortColors[i]};opacity:0.8`);
  txt(cohorts[i], tx, 823, 14, { left: true });
});
txt('Phylum', 236, 807, 14);
const phCols = [[269, 285], [466, 480], [606, 622], [697, 714], [789, 806]];
phyla.forEach((name, i) => {
  const [sx, tx] = phCols[Math.floor(i / 4)], y = 797 + (i % 4) * 12.2;
  key(sx, y, 11, 12.2, `background:${phylumColors[i]};border:1px solid #333`);
  txt('p__' + name, tx, y, 9.5, { left: true, sx: 0.86 });
});

// ---------------- panel E ----------------
txt('E', 7, 853, 20);
txt('Relative Abundance', 28, 1020, 18, { rot: -90 });
const ePanels = [
  { l: 82, r: 234, t: 882, b: 1013, st: 861, title: 'p__Actinobacteria', vals: actVals, boxes: actBox, sig: actP, min: -0.015, max: 0.305, step: 0.1, fmt: v => v.toFixed(1) },
  { l: 270, r: 421, t: 882, b: 1013, st: 861, title: 'p__Bacteroidetes', vals: bacVals, boxes: bacBox, sig: bacP, min: -0.045, max: 0.955, step: 0.25, fmt: v => v.toFixed(2) },
  { l: 460, r: 610, t: 882, b: 1013, st: 861, title: 'p__Euryarchaeota', vals: euryVals, boxes: euryBox, sig: euryP, min: -0.0035, max: 0.0735, step: 0.02, fmt: v => v.toFixed(2) },
  { l: 639, r: 789, t: 882, b: 1013, st: 861, title: 'p__Firmicutes', vals: firmVals, boxes: firmBox, sig: firmP, min: 0.235, max: 1.17, step: 0.2, fmt: v => v.toFixed(1) },
  { l: 77, r: 218, t: 1056, b: 1186, st: 1033, title: 'p__Proteobacteria', vals: protVals, boxes: protBox, sig: protP, min: -0.022, max: 0.455, step: 0.1, fmt: v => v.toFixed(1), titleSize: 15 },
  { l: 252, r: 393, t: 1056, b: 1186, st: 1033, title: 'p__Verrucomicrobia', vals: verrVals, boxes: verrBox, sig: verrP, min: -0.0055, max: 0.1127, step: 0.03, fmt: v => v.toFixed(2), titleSize: 15 }
];
ePanels.forEach(p => dotPanel(Object.assign({ titleSize: 16, ySize: 15, radius: 3.5 }, p)));
txt('Timepoint', 428, 1072, 14, { left: true });
[1090, 1105, 1119].forEach((y, t) => {
  key(430, y, 11, 11, `background:${tpColors[t]}`);
  txt(timepoints[t], 443, y, 14, { left: true });
});
</script>
</body>
</html>
